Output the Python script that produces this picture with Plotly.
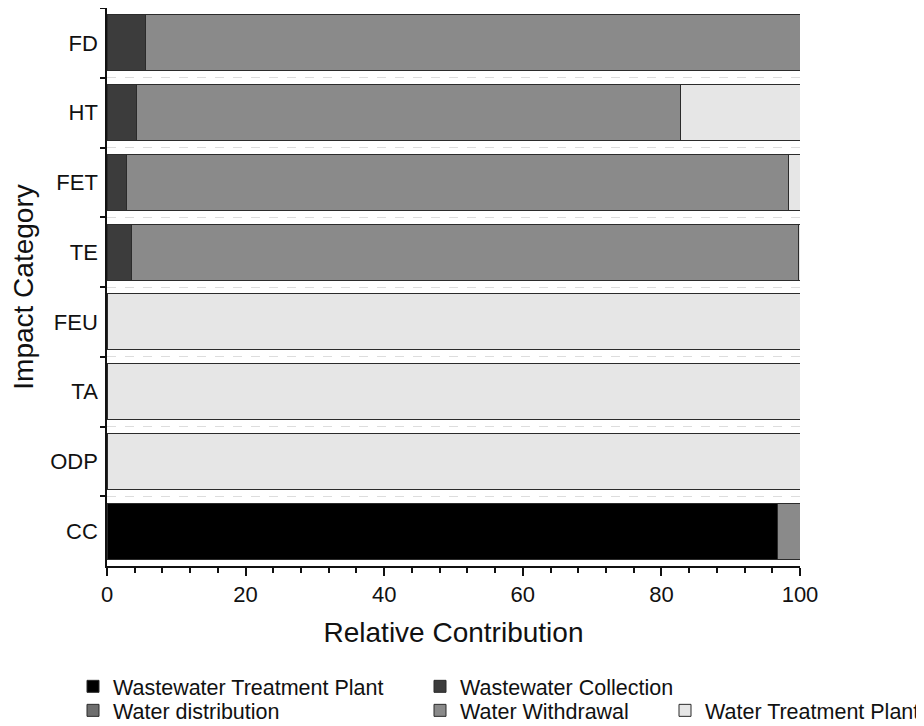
import plotly.graph_objects as go

categories = ["FD", "HT", "FET", "TE", "FEU", "TA", "ODP", "CC"]

series_names = [
    "Wastewater Treatment Plant",
    "Wastewater Collection",
    "Water distribution",
    "Water Withdrawal",
    "Water Treatment Plant",
]

wastewater_treatment_plant = [0, 0, 0, 0, 0, 0, 0, 96.8]
wastewater_collection = [5.6, 4.3, 2.8, 3.6, 0, 0, 0, 0]
water_distribution = [0, 0, 0, 0, 0, 0, 0, 0]
water_withdrawal = [94.4, 78.4, 95.5, 96.2, 0, 0, 0, 3.2]
water_treatment_plant = [0, 17.3, 1.7, 0.2, 100, 100, 100, 0]

x_ticks = [0, 20, 40, 60, 80, 100]

series_values = [
    wastewater_treatment_plant,
    wastewater_collection,
    water_distribution,
    water_withdrawal,
    water_treatment_plant,
]
colors = ["#000000", "#3c3c3c", "#6e6e6e", "#8a8a8a", "#e6e6e6"]
legend_ids = ["legend", "legend2", "legend3", "legend4", "legend5"]

FONT = "Liberation Sans, Arial, sans-serif"

fig = go.Figure()
for name, vals, col, lg in zip(series_names, series_values, colors, legend_ids):
    fig.add_trace(go.Bar(
        y=categories, x=[v if v else None for v in vals], name=name, orientation="h",
        marker=dict(color=col, line=dict(color="#2b2b2b", width=1)),
        legend=lg, hoverinfo="name+x",
    ))

# The page body has an 8px margin, so the figure is made 8px smaller and
# every screen position is shifted by -8 px.
OFF = 8
FIG_W, FIG_H = 924 - OFF, 726 - OFF
L, R, T, B = 107 - OFF, 800 - OFF, 8 - OFF, 565.7 - OFF
W, H = R - L, B - T

def px_x(p):
    return (p - OFF - L) / W

def px_y(p):
    return (B - (p - OFF)) / H

legend_common = dict(
    orientation="h", xanchor="left", yanchor="middle",
    font=dict(family=FONT, size=21.5, color="#111111"),
    bgcolor="rgba(0,0,0,0)", borderwidth=0,
    itemwidth=30,
)
leg_pos = [(73, 686), (420, 686), (73, 710), (420, 710), (665, 710)]
legend_layout = {}
for lg, (lx, ly) in zip(legend_ids, leg_pos):
    legend_layout[lg] = dict(legend_common, x=px_x(lx), y=px_y(ly))

fig.update_layout(
    width=FIG_W, height=FIG_H,
    margin=dict(l=L, r=FIG_W - R, t=T, b=FIG_H - B, autoexpand=False),
    paper_bgcolor="white", plot_bgcolor="white",
    barmode="stack", bargap=0.2,
    font=dict(family=FONT, color="#111111"),
    showlegend=True,
    xaxis=dict(
        range=[0, 100], tickvals=x_ticks, ticktext=[str(t) for t in x_ticks],
        ticks="outside", ticklen=8, tickwidth=1.5, tickcolor="#111111",
        minor=dict(dtick=4, ticks="outside", ticklen=5, tickwidth=1.5, tickcolor="#111111"),
        showline=True, linecolor="#111111", linewidth=1.5,
        showgrid=False, zeroline=False, automargin=False,
        tickfont=dict(family=FONT, size=22, color="#111111"),
        title=dict(text="Relative Contribution", font=dict(family=FONT, size=28, color="#111111"), standoff=16),
    ),
    yaxis=dict(
        type="category", categoryarray=categories, autorange="reversed",
        tickson="boundaries", ticks="outside", ticklen=5, tickwidth=1.5, tickcolor="#111111",
        showline=True, linecolor="#111111", linewidth=1.5,
        showgrid=True, gridcolor="#dddddd", griddash="dash", gridwidth=1,
        automargin=False, ticklabelstandoff=3,
        tickfont=dict(family=FONT, size=22, color="#111111"),
        title=dict(text="Impact Category", font=dict(family=FONT, size=28, color="#111111"), standoff=14),
    ),
    yaxis2=dict(
        type="category", categoryarray=categories, matches="y", overlaying="y", side="left",
        tickson="boundaries", ticks="inside", ticklen=5, tickwidth=1.5, tickcolor="#111111",
        showticklabels=False, showgrid=False, showline=False, zeroline=False,
    ),
    **legend_layout,
)

fig.write_html("out.html")
